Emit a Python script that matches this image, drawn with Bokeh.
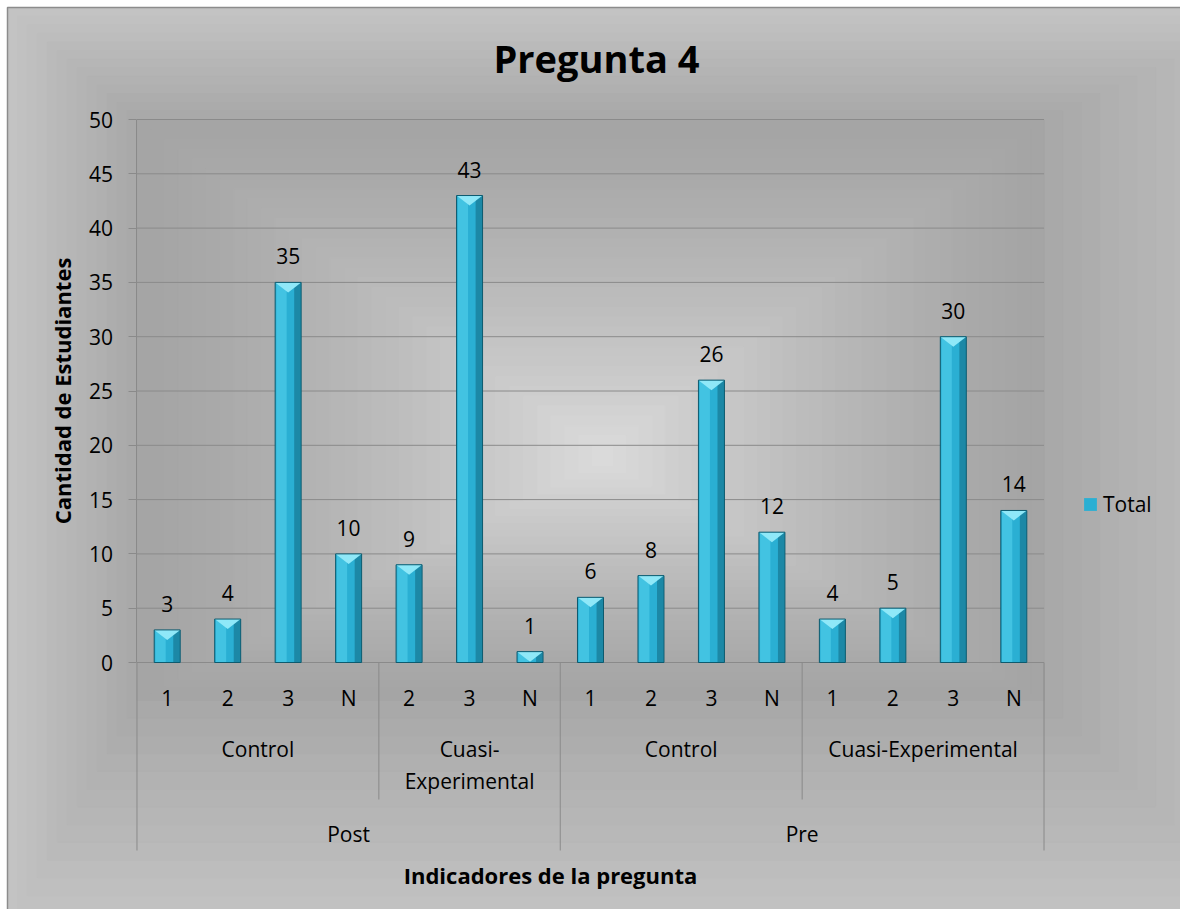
from bokeh.plotting import figure
from bokeh.models import (FactorRange, Range1d, FixedTicker, Label, Legend, LegendItem,
                          ColumnDataSource)
from bokeh.transform import dodge
from bokeh.core.properties import value
from bokeh.embed import file_html
from bokeh.resources import INLINE

# ---------------- data ----------------
phases = ["Post"] * 7 + ["Pre"] * 8
groups = ["Control"] * 4 + ["Cuasi-Experimental"] * 3 + ["Control"] * 4 + ["Cuasi-Experimental"] * 4
indicators = ["1", "2", "3", "N", "2", "3", "N", "1", "2", "3", "N", "1", "2", "3", "N"]
totals = [3, 4, 35, 10, 9, 43, 1, 6, 8, 26, 12, 4, 5, 30, 14]
y_ticks = [0, 5, 10, 15, 20, 25, 30, 35, 40, 45, 50]
title_text = "Pregunta 4"
x_title = "Indicadores de la pregunta"
y_title = "Cantidad de Estudiantes"
series_name = "Total"

# ---------------- layout constants (pixels of the page) ----------------
W, H = 1180, 909
n = len(totals)
KX = 60.47                        # px per category
X0_PX = (W - n * KX) / 2          # left of plot area
Y0_PX, Y50_PX = 662, 119          # value 0 / value 50
KY = (Y0_PX - Y50_PX) / 50.0      # px per unit
PAD = X0_PX / KX                  # factor range padding (absolute)
Y_END = Y0_PX / KY
Y_START = -(H - Y0_PX) / KY


def ydat(px):
    return (Y0_PX - px) / KY


def xdat(px):
    return (px - X0_PX) / KX


FONT = "Open Sans"
LBL = "21px"

factors = list(zip(phases, groups, indicators))

x_range = FactorRange(*factors, factor_padding=0, subgroup_padding=0, group_padding=0,
                      range_padding=PAD, range_padding_units="absolute")
p = figure(width=W, height=H, x_range=x_range,
           y_range=Range1d(Y_START, Y_END), output_backend="svg", toolbar_location=None,
           x_axis_location=None, min_border_left=0, min_border_top=0,
           min_border_bottom=0, min_border_right=0)
p.border_fill_color = "#c2c2c2"
p.background_fill_color = "white"
p.outline_line_color = None


def grey(g):
    g = int(round(g))
    return "#%02x%02x%02x" % (g, g, g)


# ---------------- chart area with "path" gradient ----------------
chart_box = (xdat(7), n + 4, Y_START - 2, ydat(7))          # left, right, bottom, top
plot_box = (0.0, float(n), ydat(700), 50.0)
center_box = (xdat(592), xdat(612), ydat(465), ydat(445))
bq = dict(left=[], right=[], bottom=[], top=[], color=[])


def ramp(a, b, c0, c1, steps, gamma):
    for i in range(steps):
        t = i / (steps - 1)
        for k, key in enumerate(["left", "right", "bottom", "top"]):
            bq[key].append(a[k] + (b[k] - a[k]) * t)
        bq["color"].append(grey(c0 + (c1 - c0) * (t ** gamma)))


ramp(chart_box, plot_box, 195, 167, 14, 1.0)
ramp(plot_box, center_box, 165, 218, 34, 1.35)
p.quad(left="left", right="right", bottom="bottom", top="top", color="color",
       source=ColumnDataSource(bq), level="image")
p.quad(left=[chart_box[0]], right=[chart_box[1]], bottom=[chart_box[2]], top=[chart_box[3]],
       fill_color=None, line_color="#8c8c8c", line_width=1.5, level="image")

# ---------------- axes / grid ----------------
p.xgrid.visible = False
p.ygrid.visible = False
p.segment(x0=[0] * len(y_ticks), x1=[n] * len(y_ticks), y0=y_ticks, y1=y_ticks,
          line_color="#8a8a8a", line_width=1, level="underlay")

SEP_LONG = ydat(850)
SEP_SHORT = ydat(799)

yax = p.yaxis[0]
yax.fixed_location = 0
yax.bounds = (min(y_ticks), max(y_ticks))
yax.ticker = FixedTicker(ticks=y_ticks)
yax.axis_line_color = "#8a8a8a"
yax.major_tick_line_color = "#8a8a8a"
yax.major_tick_out = 8
yax.major_tick_in = 0
yax.minor_tick_line_color = None
yax.major_label_standoff = 16
yax.major_label_text_font = FONT
yax.major_label_text_font_size = LBL
yax.major_label_text_color = "black"
yax.axis_label = y_title
yax.axis_label_text_font = FONT
yax.axis_label_text_font_style = "bold"
yax.axis_label_text_font_size = "22px"
yax.axis_label_text_color = "black"
yax.axis_label_standoff = 8

# ---------------- bars ----------------
src = ColumnDataSource(dict(x=factors, top=totals, txt=[str(v) for v in totals]))
BW = 0.43
main = p.vbar(x="x", top="top", width=BW, source=src, fill_color="#2aafd3",
              line_color=None)
p.vbar(x=dodge("x", -0.11, range=x_range), top="top", width=0.17, source=src,
       fill_color="#42c3e2", line_color=None)
p.vbar(x=dodge("x", 0.155, range=x_range), top="top", width=0.11, source=src,
       fill_color="#1c88a6", line_color=None)
# bevelled top (V shape)
cap_h = 10 / KY
xs, ys = [], []
for i, t in enumerate(totals):
    c = i + 0.5
    xs.append([c - BW / 2, c + BW / 2, c])
    ys.append([t, t, max(t - cap_h, 0)])
p.patches(xs=xs, ys=ys, fill_color="#8fe8f8", line_color=None)
p.vbar(x="x", top="top", width=BW, source=src, fill_color=None,
       line_color="#0d5a6e", line_width=1)

# value labels
p.text(x="x", y="top", text="txt", source=src, text_font=value(FONT),
       text_font_size=LBL, text_align="center", text_baseline="alphabetic",
       y_offset=-26, text_color="black")

# ---------------- multi-level category labels ----------------
p.text(x=factors, y=[0] * n, text=indicators, text_font=value(FONT), text_font_size=LBL,
       text_align="center", text_baseline="middle", y_offset=35, text_color="black")

sub_keys, sub_counts = [], []
for ph, gr in zip(phases, groups):
    k = (ph, gr)
    if sub_keys and sub_keys[-1] == k:
        sub_counts[-1] += 1
    else:
        sub_keys.append(k)
        sub_counts.append(1)
sub_text = [k[1].replace("-", "-\n") if c < 4 else k[1] for k, c in zip(sub_keys, sub_counts)]
p.text(x=sub_keys, y=[0] * len(sub_keys), text=sub_text, text_font=value(FONT),
       text_font_size=LBL, text_align="center", text_baseline="top", y_offset=72,
       text_line_height=1.15, text_color="black")

phase_keys = []
for ph in phases:
    if not phase_keys or phase_keys[-1] != ph:
        phase_keys.append(ph)
p.text(x=phase_keys, y=[0] * len(phase_keys), text=phase_keys, text_font=value(FONT),
       text_font_size=LBL, text_align="center", text_baseline="middle", y_offset=171,
       text_color="black")

# separators (the first one continues the value axis line downwards)
sx, sy0, sy1 = [0], [0], [SEP_LONG]
for i in range(1, n):
    if phases[i] != phases[i - 1]:
        sx.append(i); sy0.append(0); sy1.append(SEP_LONG)
    elif groups[i] != groups[i - 1]:
        sx.append(i); sy0.append(0); sy1.append(SEP_SHORT)
sx.append(n); sy0.append(0); sy1.append(SEP_LONG)
p.segment(x0=sx, x1=sx, y0=sy0, y1=sy1, line_color="#8a8a8a", line_width=1)

# ---------------- titles ----------------
p.add_layout(Label(x=xdat(596), y=ydat(57), text=title_text, text_font=FONT,
                   text_font_style="bold", text_font_size="38px", text_align="center",
                   text_baseline="alphabetic", text_color="black"))
p.add_layout(Label(x=xdat(550), y=ydat(874), text=x_title, text_font=FONT,
                   text_font_style="bold", text_font_size="22px", text_align="center",
                   text_baseline="alphabetic", text_color="black"))

# ---------------- legend ----------------
legend = Legend(items=[LegendItem(label=series_name, renderers=[main])],
                location=(1082, H - 505 - 13), orientation="vertical", glyph_width=16,
                glyph_height=16, label_height=20, label_standoff=5, padding=0, margin=0,
                background_fill_alpha=0, border_line_color=None,
                label_text_font=FONT, label_text_font_size=LBL, label_text_color="black")
p.add_layout(legend, "center")

open("out.html", "w").write(file_html(p, INLINE))
